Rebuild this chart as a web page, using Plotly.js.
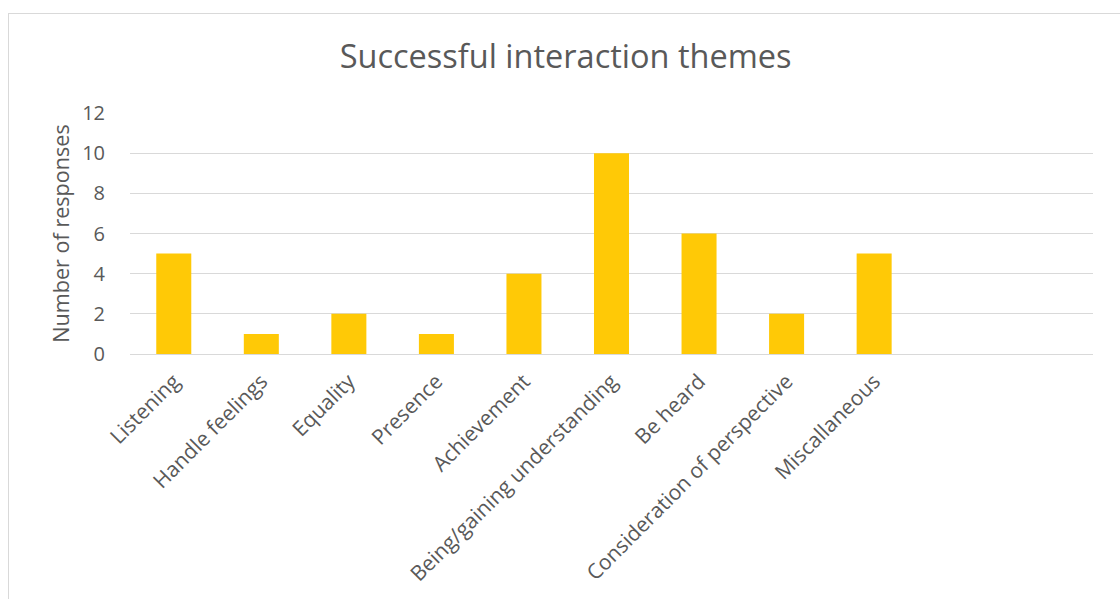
<!DOCTYPE html>
<html><head><meta charset="utf-8">
<script src="https://cdn.plot.ly/plotly-3.0.1.min.js"></script>
<style>
html,body{margin:0;padding:0;background:#fff;overflow:hidden;}
#chart{width:1120px;height:599px;}
#frame{position:absolute;left:8px;top:13px;width:1200px;height:700px;border:1px solid #d9d9d9;pointer-events:none;}
</style></head>
<body>
<div id="chart"></div>
<div id="frame"></div>
<script>
const categories = ["Listening","Handle feelings","Equality","Presence","Achievement","Being/gaining understanding","Be heard","Consideration of perspective","Miscallaneous"];
const responses = [5,1,2,1,4,10,6,2,5];
const yTicks = [0,2,4,6,8,10,12];

const FONT = "'Open Sans', Lato, sans-serif";
Plotly.newPlot('chart', [{
  type:'bar', x:categories, y:responses,
  marker:{color:'#FFC906'}, hoverinfo:'x+y'
}], {
  width:1120, height:599,
  margin:{l:130, r:27, t:113, b:245},
  paper_bgcolor:'#fff', plot_bgcolor:'#fff',
  bargap:0.6,
  font:{family:FONT, color:'#595959', size:20},
  title:{text:'Successful interaction themes', x:0.505, xanchor:'center', y:0.905, yanchor:'middle', font:{size:32.5, color:'#595959', family:FONT}},
  xaxis:{type:'category', range:[-0.5,10.5], tickangle:-45, tickfont:{size:21, color:'#595959', family:FONT}, showgrid:false, showline:false, zeroline:false, ticks:'', ticklabelstandoff:10, fixedrange:true},
  yaxis:{range:[0,12], tickvals:yTicks, ticktext:yTicks.map(String), tickfont:{size:20,color:'#595959', family:FONT}, gridcolor:'#d9d9d9', gridwidth:1, zeroline:true, zerolinecolor:'#d9d9d9', zerolinewidth:1, showline:false, ticks:'', ticklabelstandoff:24,
    title:{text:'Number of responses', font:{size:21.6,color:'#595959', family:FONT}, standoff:6}, fixedrange:true},
  showlegend:false
}, {displayModeBar:false, staticPlot:true});
</script>
</body></html>
